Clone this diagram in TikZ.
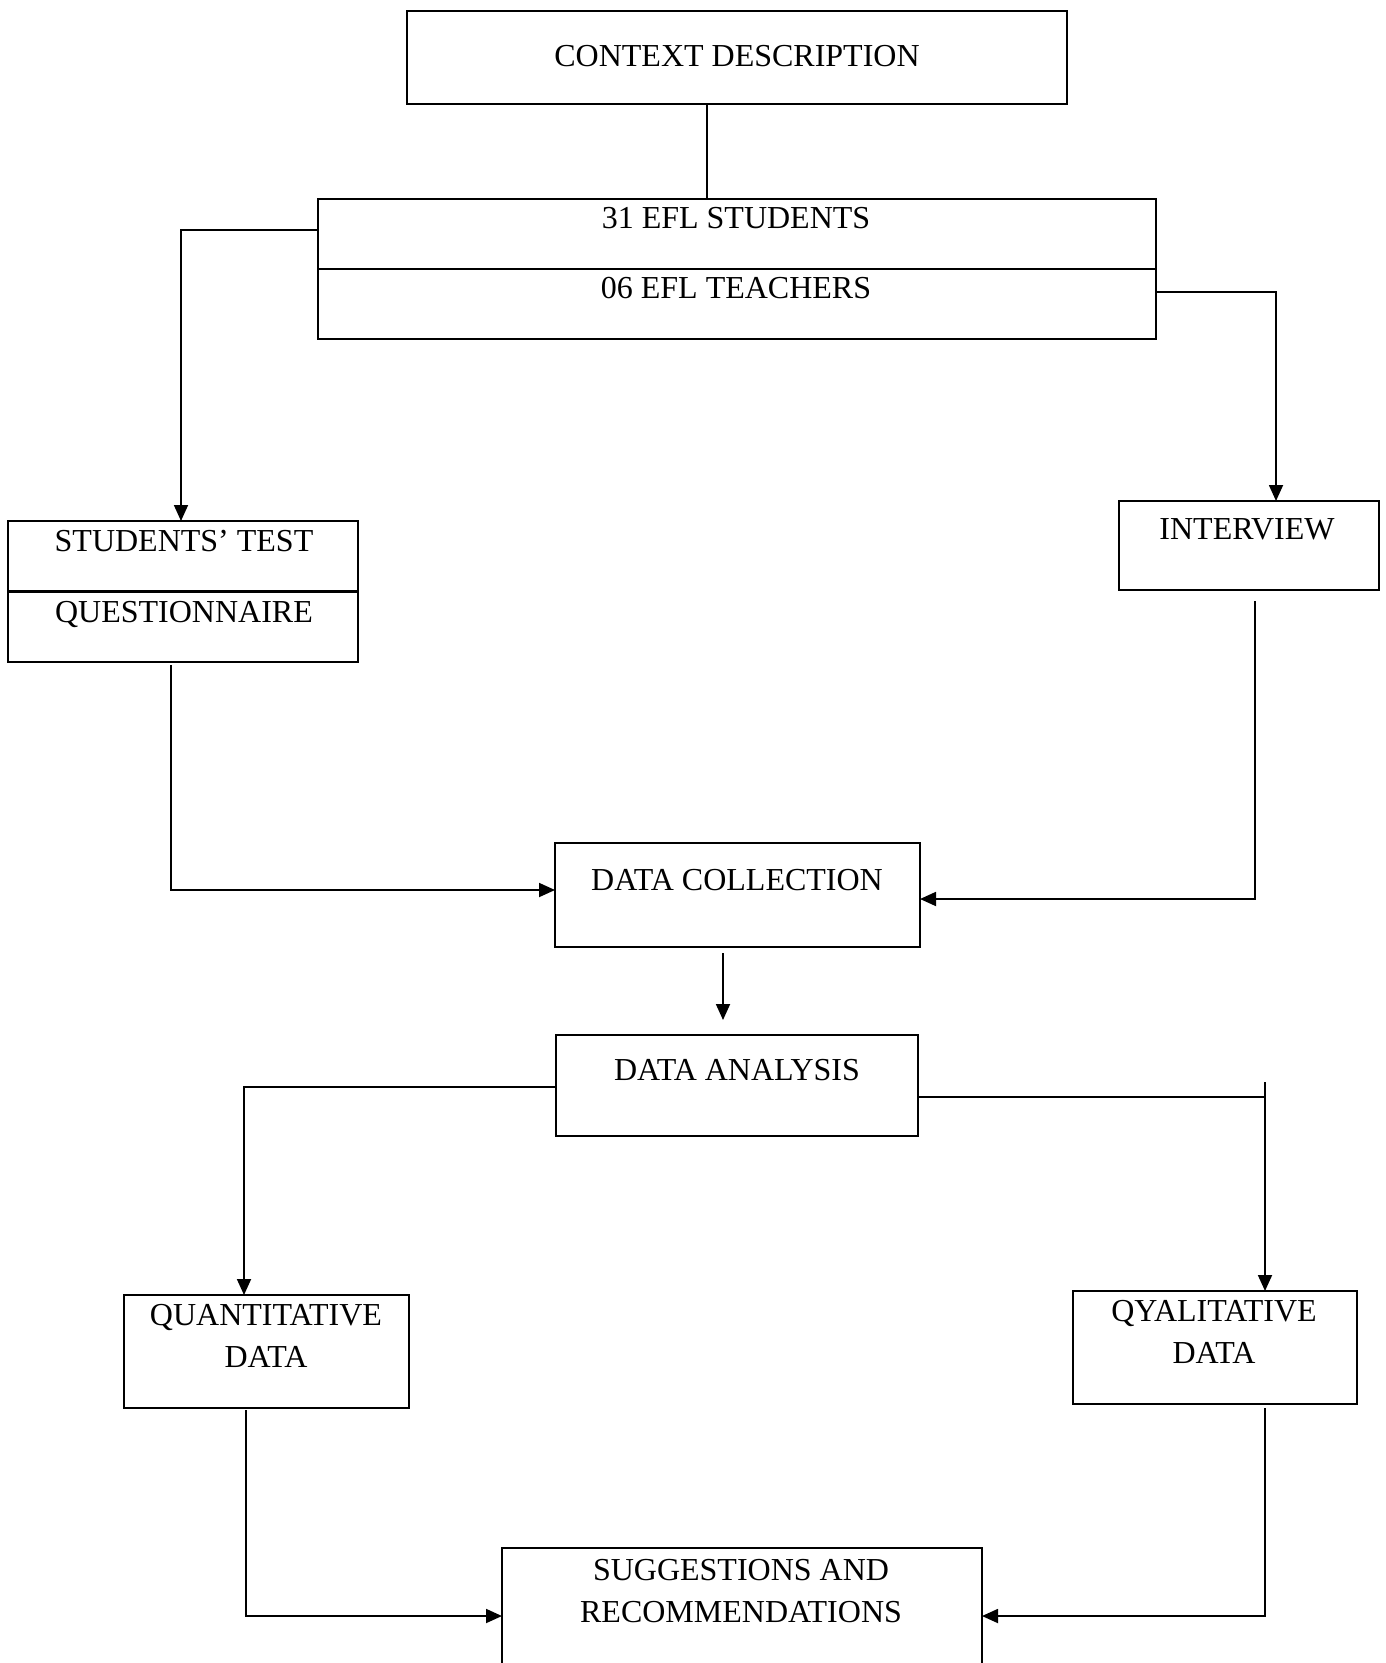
\documentclass[tikz,border=0pt]{standalone}
\usepackage{fontspec}
\setmainfont{Liberation Serif}
\usetikzlibrary{arrows.meta}
\begin{document}
\begin{tikzpicture}[x=0.5pt,y=-0.5pt,
  box/.style={draw, line width=1.2pt, inner sep=0pt, outer sep=0pt},
  lbl/.style={font=\fontsize{16}{21}\selectfont, inner sep=0pt, outer sep=0pt, align=center},
  conn/.style={line width=0.9pt},
  arr/.style={conn, -{Triangle[length=8pt,width=7pt]}}]
\useasboundingbox (0,0) rectangle (1385,1663);
\clip (0,0) rectangle (1385,1663);
\fill[white] (0,0) rectangle (1385,1663);

% boxes
\node[box, minimum width=330pt, minimum height=46.5pt] (ctx) at (737,57.5) {};
\node[box, minimum width=419pt, minimum height=70pt] (stu) at (737,269) {};
\node[box, minimum width=175pt, minimum height=70.5pt] (test) at (183,591.5) {};
\node[box, minimum width=130pt, minimum height=44.5pt] (intv) at (1249,545.5) {};
\node[box, minimum width=182.5pt, minimum height=52pt] (coll) at (737.5,895) {};
\node[box, minimum width=181pt, minimum height=50.5pt] (anal) at (737,1085.5) {};
\node[box, minimum width=142.5pt, minimum height=56.5pt] (quan) at (266.5,1351.5) {};
\node[box, minimum width=142pt, minimum height=56.5pt] (qual) at (1215,1347.5) {};
\node[box, minimum width=240pt, minimum height=80pt] (sugg) at (742,1628) {};

% dividers
\draw[line width=1.2pt] (stu.west) -- (stu.east);
\draw[line width=1.2pt] (test.west) -- (test.east);

% texts
\node[lbl, anchor=base] (tctx) at (737,67) {CONTEXT DESCRIPTION};
\node[lbl, anchor=base] (tstu) at (736,229) {31 EFL STUDENTS};
\node[lbl, anchor=base] (ttea) at (736,299) {06 EFL TEACHERS};
\node[lbl, anchor=base] (ttest) at (184,551) {STUDENTS’ TEST};
\node[lbl, anchor=base] (tques) at (184,622) {QUESTIONNAIRE};
\node[lbl, anchor=base] (tintv) at (1247,539) {INTERVIEW};
\node[lbl, anchor=base] (tcoll) at (737,890) {DATA COLLECTION};
\node[lbl, anchor=base] (tanal) at (737,1080) {DATA ANALYSIS};
\node[lbl, anchor=north] (tquan) at (266,1304) {QUANTITATIVE\\DATA};
\node[lbl, anchor=north] (tqual) at (1214,1300) {QYALITATIVE\\DATA};
\node[lbl, anchor=north] (tsugg) at (741,1559) {SUGGESTIONS AND\\RECOMMENDATIONS};

% free ends
\coordinate (s1) at (171,665);
\coordinate (s2) at (1255,601);
\coordinate (s3) at (723,953);
\coordinate (e3) at (723,1020);
\coordinate (s4) at (1265,1082);
\coordinate (s5) at (246,1410);
\coordinate (s6) at (1265,1408);

% connectors
\draw[conn] (ctx.south -| 707,0) -- (stu.north -| 707,0);
\draw[arr] (stu.west |- 0,230) -| (test.north -| 181,0);
\draw[arr] (stu.east |- 0,292) -| (intv.north -| 1276,0);
\draw[arr] (s1) |- (coll.west |- 0,890);
\draw[arr] (s2) |- (coll.east |- 0,899);
\draw[arr] (s3) -- (e3);
\draw[arr] (anal.west |- 0,1087) -| (quan.north -| 244,0);
\draw[conn] (anal.east |- 0,1097) -- (1265,1097);
\draw[arr] (s4) -- (qual.north -| 1265,0);
\draw[arr] (s5) |- (sugg.west |- 0,1616);
\draw[arr] (s6) |- (sugg.east |- 0,1616);
\end{tikzpicture}
\end{document}
